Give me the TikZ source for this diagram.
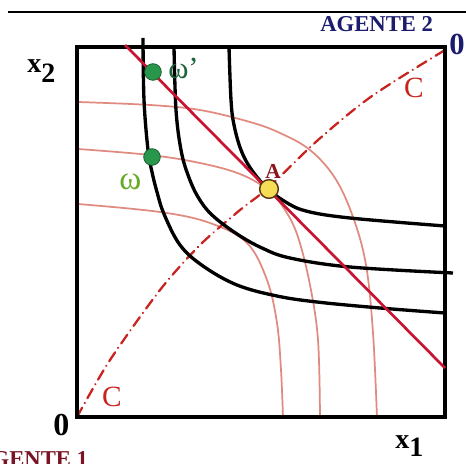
\documentclass[tikz,border=0pt]{standalone}
\usepackage{fontspec}
\setmainfont{Liberation Serif}
\definecolor{navy}{RGB}{28,28,110}
\definecolor{agred}{RGB}{120,20,35}
\definecolor{budgetred}{RGB}{200,20,50}
\definecolor{pinkc}{RGB}{224,138,128}
\definecolor{ccred}{RGB}{200,35,30}
\definecolor{dotgreen}{RGB}{40,150,75}
\definecolor{dotedge}{RGB}{25,95,50}
\definecolor{lblgreen}{RGB}{30,100,60}
\definecolor{lgreen}{RGB}{105,170,40}
\definecolor{ayellow}{RGB}{245,222,85}
\definecolor{aedge}{RGB}{90,55,20}
\definecolor{alabel}{RGB}{140,20,30}
\tikzset{
  boxline/.style={line width=3pt},
  icurve/.style={line width=2.5pt, line join=round},
  pinkcurve/.style={pinkc, line width=1.3pt},
  budget/.style={budgetred, line width=2pt},
  contract/.style={ccred, line width=1.7pt, line cap=round, dash pattern=on 8pt off 4pt on 0.1pt off 4pt},
  gdot/.style={circle, fill=dotgreen, draw=dotedge, line width=0.6pt, minimum size=12.5pt, inner sep=0pt},
  adot/.style={circle, fill=ayellow, draw=aedge, line width=1.1pt, minimum size=14pt, inner sep=0pt},
  lbl/.style={inner sep=0pt, anchor=base west},
}
\begin{document}
\begin{tikzpicture}[x=0.75pt,y=-0.75pt]
\useasboundingbox (0,0) rectangle (466,463);
\clip (0,0) rectangle (466,463);
\fill[white] (0,0) rectangle (466,463);

% top rule
\coordinate (tl) at (8,12);
\coordinate (tr) at (466,12);
\draw[line width=2.2pt] (tl) -- (tr);

% pink (agent 2) indifference curves
\draw[pinkcurve] plot[smooth, tension=0.6] coordinates {(78,102) (150,105) (200,110) (250,122) (280,133) (310,150) (335,178) (353,217) (366,265) (373,333) (377,418)};
\draw[pinkcurve] plot[smooth, tension=0.6] coordinates {(78,149) (150,155) (200,163) (240,174) (268,190) (285,210) (298,237) (310,285) (318,340) (320,418)};
\draw[pinkcurve] plot[smooth, tension=0.6] coordinates {(78,204) (160,212) (210,223) (247,243) (267,280) (277,323) (281,370) (283,418)};

% contract curve
\draw[contract] plot[smooth, tension=0.5] coordinates {(77,417) (110,360) (160,290) (200,245) (240,210) (268,188) (318,140) (372,96) (445,50)};

% black (agent 1) indifference curves
\draw[icurve] plot[smooth, tension=0.6] coordinates {(143,38) (144,100) (148,150) (152,172) (157,192) (164,214) (180,245) (203,266) (237,285) (277,296) (317,302) (380,308) (445,313)};
\draw[icurve] plot[smooth, tension=0.6] coordinates {(174,47) (176,110) (181,150) (188,175) (198,197) (212,215) (237,234) (262,248) (290,258) (350,267) (453,273)};
\draw[icurve] plot[smooth, tension=0.6] coordinates {(229,47) (231,100) (234,125) (241,150) (251,169) (266,187) (284,201) (306,211) (350,218) (445,226)};

% Edgeworth box
\draw[boxline] (77,47) rectangle (445,417);

% budget line
\coordinate (b1) at (125,45);
\coordinate (b2) at (445,368);
\draw[budget] (b1) -- (b2);

% points
\node[gdot] (wp) at (153,72) {};
\node[gdot] (w) at (152,157) {};
\node[adot] (A) at (269,189) {};

% labels
\node[lbl, text=lblgreen, font=\fontsize{23}{24}\selectfont] (lwp) at (168,79) {ω’};
\node[lbl, text=lgreen, font=\fontsize{25}{26}\selectfont] (lw) at (119,189) {ω};
\node[inner sep=0pt, anchor=base, text=alabel, font=\bfseries\fontsize{16}{18}\selectfont] (lA) at (273,178) {A};
\node[inner sep=0pt, anchor=base, text=ccred, font=\fontsize{22}{24}\selectfont] (c1) at (414,98) {C};
\node[inner sep=0pt, anchor=base, text=ccred, font=\fontsize{22}{24}\selectfont] (c2) at (112,406) {C};

\node[lbl, text=navy, font=\bfseries\fontsize{17}{20}\selectfont] (ag2) at (320,32) {AGENTE 2};
\node[lbl, text=navy, font=\bfseries\fontsize{23}{26}\selectfont] (o2) at (449,55) {0};
\node[lbl, font=\bfseries\fontsize{24}{26}\selectfont] (o1) at (53,435) {0};
\node[lbl, text=agred, font=\bfseries\fontsize{17}{20}\selectfont] (ag1) at (-25,466) {AGENTE 1};
\node[lbl, font=\bfseries\fontsize{21}{22}\selectfont] (x2) at (27,73) {x$_{\textbf{2}}$};
\node[lbl, font=\bfseries\fontsize{21}{22}\selectfont] (x1) at (395,448) {x$_{\textbf{1}}$};
\end{tikzpicture}
\end{document}
